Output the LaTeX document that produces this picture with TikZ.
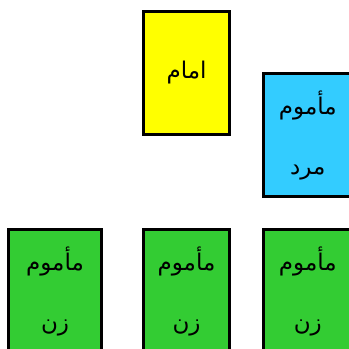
\documentclass[tikz,border=0pt]{standalone}
\usepackage{fontspec}
\newfontfamily\arabicfont[Script=Arabic]{DejaVu Sans}
\TeXXeTstate=1
\definecolor{boxyellow}{HTML}{FFFF00}
\definecolor{boxblue}{HTML}{33CCFF}
\definecolor{boxgreen}{HTML}{33CC33}
\tikzset{
  card/.style={draw=black, line width=2.6pt, rectangle, inner sep=0pt,
    minimum height=123pt, align=center,
    font=\arabicfont\fontsize{23}{60}\selectfont},
}
\begin{document}
\begin{tikzpicture}[x=1pt,y=1pt]
\useasboundingbox (0,0) rectangle (349,-349);
\clip (0,0) rectangle (349,-349);
\node[card, fill=boxyellow, minimum width=86pt] (imam) at (186.5,-73) {\beginR امام\endR};
\node[card, fill=boxblue, minimum width=89pt] (mard) at (307.8,-135) {\beginR مأموم\endR\\\beginR مرد\endR};
\node[card, fill=boxgreen, minimum width=93pt] (zan1) at (55,-291) {\beginR مأموم\endR\\\beginR زن\endR};
\node[card, fill=boxgreen, minimum width=86pt] (zan2) at (186.5,-291) {\beginR مأموم\endR\\\beginR زن\endR};
\node[card, fill=boxgreen, minimum width=89pt] (zan3) at (307.8,-291) {\beginR مأموم\endR\\\beginR زن\endR};
\end{tikzpicture}
\end{document}
